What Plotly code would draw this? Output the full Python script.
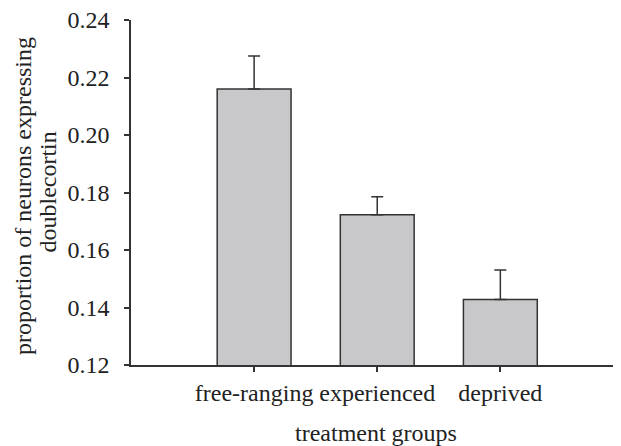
import plotly.graph_objects as go

categories = ["free-ranging", "experienced", "deprived"]
means = [0.2160, 0.1723, 0.1428]
errors_up = [0.0115, 0.0062, 0.0102]
y_ticks = [0.12, 0.14, 0.16, 0.18, 0.20, 0.22, 0.24]
y_title_lines = ["proportion of neurons expressing", "doublecortin"]
x_title = "treatment groups"

font_family = "Liberation Serif, Times New Roman, serif"
axis_color = "#333333"
text_color = "#222222"
fs = 24

fig = go.Figure()
fig.add_trace(go.Bar(
    x=categories,
    y=means,
    width=0.6,
    marker=dict(color="#c8c8ca", line=dict(color=axis_color, width=1.5)),
    error_y=dict(type="data", array=errors_up, arrayminus=[0, 0, 0], symmetric=False,
                 color=axis_color, thickness=1.5, width=6),
))

# page body has an 8px default margin; compensate in figure size/margins
fig.update_layout(
    width=613, height=438,
    margin=dict(l=123, r=0, t=12, b=81, autoexpand=False),
    plot_bgcolor="white", paper_bgcolor="white",
    showlegend=False,
    font=dict(family=font_family, size=fs, color=text_color),
    xaxis=dict(
        type="category", range=[-1, 2.98],
        showline=True, linecolor=axis_color, linewidth=1.5,
        ticks="outside", ticklen=5, tickcolor=axis_color, tickwidth=1.5,
        showgrid=False, zeroline=False,
        tickfont=dict(size=fs),
        ticklabeloverflow="allow",
    ),
    yaxis=dict(
        range=[0.12, 0.24], tickvals=y_ticks,
        tickformat=".2f",
        showline=True, linecolor=axis_color, linewidth=1.5,
        ticks="outside", ticklen=5, tickcolor=axis_color, tickwidth=1.5,
        showgrid=False, zeroline=False,
        tickfont=dict(size=fs),
        ticklabelstandoff=10,
        ticklabeloverflow="allow",
    ),
    annotations=[
        dict(text=y_title_lines[0], xref="paper", yref="paper", x=-0.2204, y=0.49,
             xanchor="center", yanchor="middle", textangle=-90, showarrow=False,
             font=dict(size=fs)),
        dict(text=y_title_lines[1], xref="paper", yref="paper", x=-0.1714, y=0.5,
             xanchor="center", yanchor="middle", textangle=-90, showarrow=False,
             font=dict(size=fs)),
        dict(text=x_title, xref="paper", yref="paper", x=0.5, y=-0.197,
             xanchor="center", yanchor="middle", showarrow=False,
             font=dict(size=fs)),
    ],
)

fig.write_html("out.html")
